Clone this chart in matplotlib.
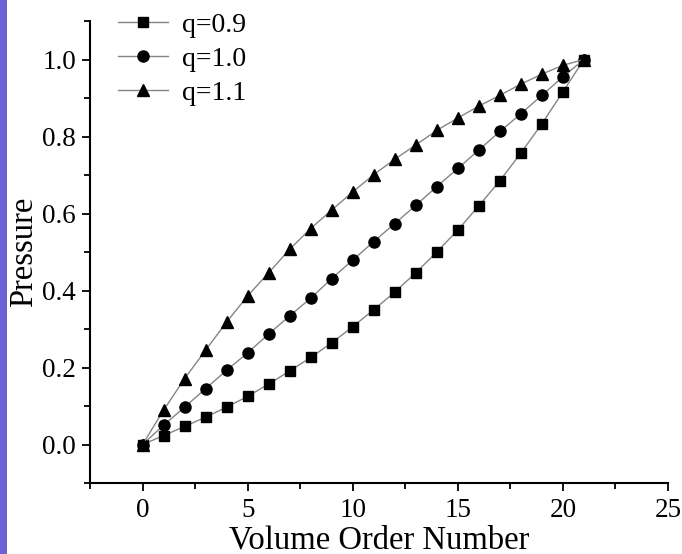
import matplotlib
matplotlib.use("Agg")
import matplotlib.pyplot as plt
from matplotlib.patches import Rectangle
from matplotlib.ticker import MultipleLocator

x = list(range(22))
q09 = [0, 0.023, 0.047, 0.071, 0.097, 0.125, 0.157, 0.191, 0.226, 0.264, 0.306,
       0.350, 0.396, 0.446, 0.500, 0.557, 0.620, 0.685, 0.757, 0.833, 0.916, 1.0]
q10 = [0, 0.050, 0.097, 0.145, 0.193, 0.238, 0.287, 0.334, 0.380, 0.431, 0.479,
       0.527, 0.574, 0.621, 0.670, 0.717, 0.765, 0.813, 0.859, 0.907, 0.955, 1.0]
q11 = [0, 0.089, 0.171, 0.245, 0.318, 0.386, 0.446, 0.507, 0.561, 0.609, 0.656,
       0.701, 0.741, 0.778, 0.816, 0.848, 0.879, 0.907, 0.936, 0.962, 0.985, 1.0]
labels = ["q=0.9", "q=1.0", "q=1.1"]

plt.rcParams['font.family'] = ['Liberation Serif', 'DejaVu Serif']

fig = plt.figure(figsize=(6.82, 5.54), dpi=100)
fig.patches.append(Rectangle((0, 0), 7 / 682, 1, transform=fig.transFigure,
                             facecolor='#6b62d6', edgecolor='none', zorder=0))
ax = fig.add_axes([90 / 682, 1 - 483 / 554, (668 - 90) / 682, (483 - 21) / 554])

line_kw = dict(color='#858585', lw=1.0, markerfacecolor='black', markeredgecolor='black')
ax.plot(x, q09, marker='s', ms=7, label=labels[0], **line_kw)
ax.plot(x, q10, marker='o', ms=8, label=labels[1], **line_kw)
ax.plot(x, q11, marker='^', ms=9, label=labels[2], **line_kw)

ax.set_xlim(-2.5, 25)
ax.set_ylim(-0.1, 1.1)
ax.xaxis.set_minor_locator(MultipleLocator(2.5))
ax.yaxis.set_minor_locator(MultipleLocator(0.1))
ax.set_xticks([0, 5, 10, 15, 20, 25])
ax.set_xticklabels(["0", "5", "10", "15", "20", "25"])
ax.set_yticks([0.0, 0.2, 0.4, 0.6, 0.8, 1.0])
ax.set_yticklabels(["0.0", "0.2", "0.4", "0.6", "0.8", "1.0"])

for s in ['top', 'right']:
    ax.spines[s].set_visible(False)
for s in ['left', 'bottom']:
    ax.spines[s].set_linewidth(1.5)
ax.tick_params(which='major', direction='out', length=6, width=1.3, labelsize=19.5)
ax.tick_params(axis='x', which='major', pad=5)
ax.tick_params(axis='y', which='major', pad=4)
ax.tick_params(which='minor', direction='out', length=4.5, width=1.3)

ax.set_xlabel("Volume Order Number", fontsize=23.5, labelpad=1)
ax.set_ylabel("Pressure", fontsize=23.5, labelpad=2)

ax.legend(loc='upper left', bbox_to_anchor=(0.015, 1.06), frameon=False, fontsize=20,
          handlelength=1.8, handletextpad=0.5, labelspacing=0.3, borderpad=0.2)

fig.savefig("out.png", dpi=100)
